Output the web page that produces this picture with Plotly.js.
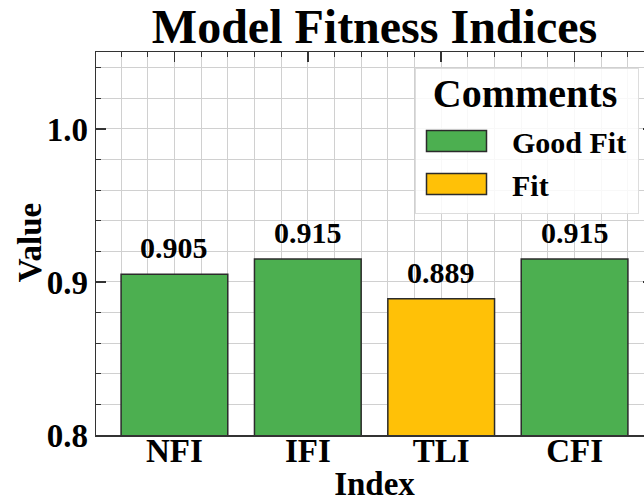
<!DOCTYPE html>
<html>
<head>
<meta charset="utf-8">
<script src="https://cdn.plot.ly/plotly-3.0.1.min.js"></script>
<style>
  html, body { margin: 0; padding: 0; overflow: hidden; background: #fff; }
  #chart { width: 662px; height: 502px; }
</style>
</head>
<body>
<div id="chart"></div>
<script>
// ---- data ----
const categories = ["NFI", "IFI", "TLI", "CFI"];
const values = [0.905, 0.915, 0.889, 0.915];
const comments = ["Good Fit", "Good Fit", "Fit", "Good Fit"];
const commentLevels = ["Good Fit", "Fit"];
const commentColors = { "Good Fit": "#4CAF50", "Fit": "#FFC107" };
const valueLabels = ["0.905", "0.915", "0.889", "0.915"];
const yTickVals = [0.8, 0.9, 1.0];
const yTickText = ["0.8", "0.9", "1.0"];

const FONT = "'Liberation Serif', 'Times New Roman', serif";
const positions = categories.map((c, i) => i);

const traces = commentLevels.map(level => {
  const idx = categories.map((c, i) => i).filter(i => comments[i] === level);
  return {
    type: "bar",
    name: level,
    x: idx.map(i => positions[i]),
    y: idx.map(i => values[i]),
    base: 0,
    width: 0.8,
    marker: { color: commentColors[level], line: { color: "#2b2b2b", width: 1.5 } },
    hoverinfo: "skip"
  };
});

const annotations = categories.map((c, i) => ({
  x: positions[i], y: values[i], xref: "x", yref: "y",
  text: "<b>" + valueLabels[i] + "</b>", showarrow: false,
  yanchor: "bottom", yshift: 8,
  font: { family: FONT, size: 30, color: "#000" }
}));

const layout = {
  width: 662, height: 502,
  margin: { l: 96, r: 9, t: 52, b: 67 },
  paper_bgcolor: "#fff", plot_bgcolor: "#fff",
  barmode: "overlay",
  showlegend: true,
  title: {
    text: "<b>Model Fitness Indices</b>",
    font: { family: FONT, size: 48, color: "#000" },
    x: 0.5, xref: "paper", xanchor: "center",
    y: 1, yref: "container", yanchor: "top", pad: { t: 9 }
  },
  xaxis: {
    range: [-0.588, 3.588],
    tickmode: "array", tickvals: positions, ticktext: categories.map(c => "<b>" + c + "</b>"),
    ticks: "inside", ticklen: 10, tickwidth: 1.5, tickcolor: "#333",
    mirror: "ticks", showline: true, linecolor: "#333", linewidth: 1.5,
    showgrid: true, gridcolor: "#d0d0d0", gridwidth: 1,
    minor: { dtick: 0.2, ticklen: 5, tickwidth: 1, tickcolor: "#333", showgrid: true, gridcolor: "#d0d0d0", gridwidth: 1, ticks: "inside" },
    zeroline: false,
    layer: "below traces",
    tickfont: { family: FONT, size: 33, color: "#000" },
    title: { text: "<b>Index</b>", font: { family: FONT, size: 33, color: "#000" }, standoff: 2 }
  },
  yaxis: {
    range: [0.8, 1.0503],
    tickmode: "array", tickvals: yTickVals, ticktext: yTickText.map(t => "<b>" + t + "</b>"),
    ticks: "inside", ticklen: 10, tickwidth: 1.5, tickcolor: "#333",
    mirror: "ticks", showline: true, linecolor: "#333", linewidth: 1.5,
    showgrid: true, gridcolor: "#d0d0d0", gridwidth: 1,
    minor: { dtick: 0.02, tick0: 0.8, ticklen: 5, tickwidth: 1, tickcolor: "#333", showgrid: true, gridcolor: "#d0d0d0", gridwidth: 1, ticks: "inside" },
    zeroline: false,
    layer: "below traces",
    tickfont: { family: FONT, size: 33, color: "#000" },
    title: { text: "<b>Value</b>", font: { family: FONT, size: 33, color: "#000" }, standoff: 6 }
  },
  legend: {
    x: 0.5727, xanchor: "left", xref: "paper",
    y: 0.958, yanchor: "top", yref: "paper",
    bgcolor: "rgba(255,255,255,0.85)", bordercolor: "#dddddd", borderwidth: 1,
    font: { family: FONT, size: 30, color: "#000", weight: "bold" },
    itemwidth: 80,
    title: { text: "Comments", side: "top center", font: { family: FONT, size: 40, color: "#000", weight: "bold" } },
    traceorder: "normal"
  },
  annotations: annotations
};

function shiftBy(el, dx, dy) {
  const old = el.getAttribute("transform") || "";
  el.setAttribute("transform", "translate(" + dx + "," + dy + ") " + old);
}
function centerOf(el) {
  const r = el.getBoundingClientRect();
  return { x: r.left + r.width / 2, y: r.top + r.height / 2, left: r.left, top: r.top };
}
function moveCenterTo(el, tx, ty) {
  const c = centerOf(el);
  shiftBy(el, tx == null ? 0 : tx - c.x, ty == null ? 0 : ty - c.y);
}

function finish(gd) {
  // legend box: fixed size and place, as in the reference
  const leg = gd.querySelector(".legend");
  if (leg) {
    const bg = leg.querySelector("rect.bg");
    const lr = bg.getBoundingClientRect();
    shiftBy(leg, 415 - lr.left, 68 - lr.top);
    bg.setAttribute("width", 223);
    bg.setAttribute("height", 145);
    leg.querySelectorAll("[clip-path]").forEach(e => e.removeAttribute("clip-path"));
  }
  gd.querySelectorAll(".legend .traces .legendpoints path").forEach(p => {
    p.setAttribute("d", "M30,10.5H-30V-10.5H30Z");
    p.style.strokeWidth = "1.5px";
  });
  const lt = gd.querySelector(".legend .legendtitletext");
  if (lt) moveCenterTo(lt, 525, 93.5);
  const rowTargets = [141, 184];
  gd.querySelectorAll(".legend .traces").forEach((g, k) => {
    const pts = g.querySelector(".legendpoints path");
    if (!pts) return;
    const c = centerOf(pts);
    shiftBy(g, 0, rowTargets[k] - c.y);
    const pg = g.querySelector(".legendpoints");
    const c2 = centerOf(pts);
    shiftBy(pg, 456.5 - c2.x, 0);
    const txt = g.querySelector(".legendtext");
    const ct = centerOf(txt);
    shiftBy(txt, 512 - ct.left, 0);
  });
  // x tick labels sit right under the axis, as in the reference
  gd.querySelectorAll(".xtick text").forEach(t => moveCenterTo(t, null, 451));
  const xt = gd.querySelector(".g-xtitle text");
  if (xt) moveCenterTo(xt, null, 484);
  const yt = gd.querySelector(".g-ytitle text");
  if (yt) moveCenterTo(yt, 30, 242.5);
}

const ready = (document.fonts && document.fonts.ready) ? document.fonts.ready : Promise.resolve();
ready.then(() => Plotly.newPlot("chart", traces, layout, { displayModeBar: false, staticPlot: true }))
     .then(finish);
</script>
</body>
</html>
